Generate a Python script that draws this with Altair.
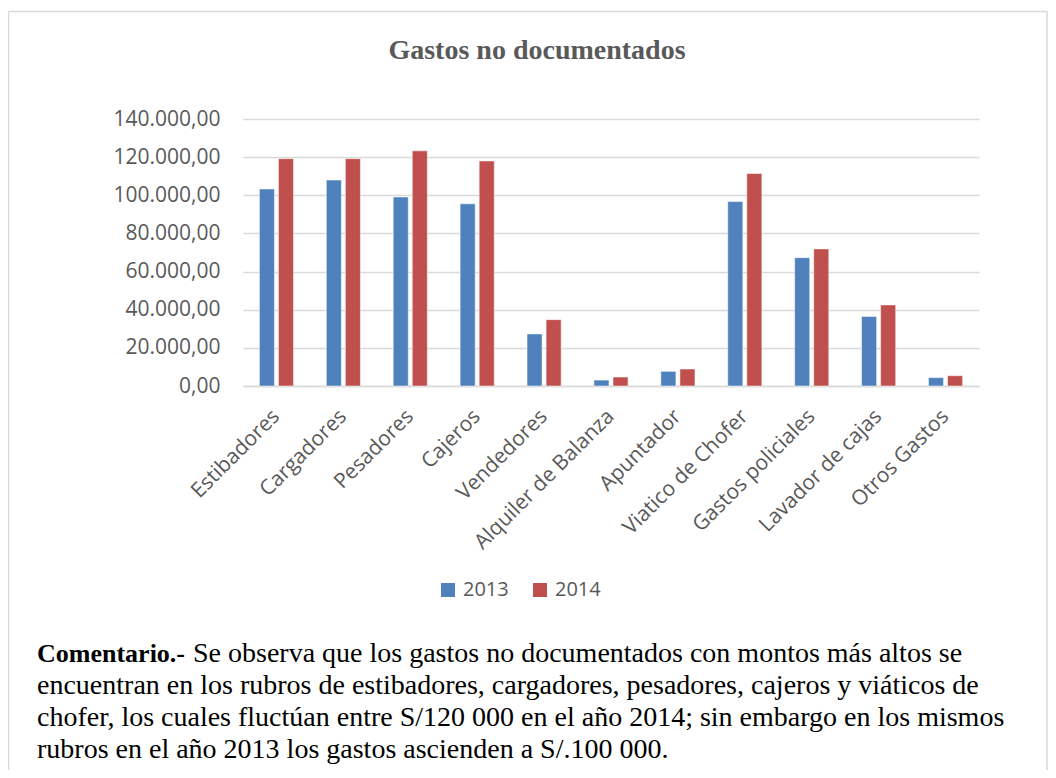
import altair as alt
import pandas as pd

# ---- data ----
categories = ["Estibadores", "Cargadores", "Pesadores", "Cajeros", "Vendedores",
              "Alquiler de Balanza", "Apuntador", "Viatico de Chofer",
              "Gastos policiales", "Lavador de cajas", "Otros Gastos"]
values_2013 = [103300, 108000, 99100, 95500, 27300, 3100, 7700, 96700, 67300, 36500, 4400]
values_2014 = [119200, 119200, 123300, 118000, 34800, 4700, 8900, 111400, 71900, 42500, 5400]
years = ["2013", "2014"]
colors = ["#4F81BD", "#C0504D"]
y_ticks = [0, 20000, 40000, 60000, 80000, 100000, 120000, 140000]

title_text = "Gastos no documentados"
comment_bold = "Comentario.-"
comment_lines = [
    "Se observa que los gastos no documentados con montos más altos se",
    "encuentran en los rubros de estibadores, cargadores, pesadores, cajeros y viáticos de",
    "chofer, los cuales fluctúan entre S/120 000 en el año 2014; sin embargo en los mismos",
    "rubros en el año 2013 los gastos ascienden a S/.100 000.",
]

rows = []
for c, a, b in zip(categories, values_2013, values_2014):
    rows.append({"rubro": c, "anio": years[0], "monto": a})
    rows.append({"rubro": c, "anio": years[1], "monto": b})
df = pd.DataFrame(rows)

W, H = 736, 267
GRAY = "#595959"
LINE = "#d9d9d9"
SANS = "Open Sans"
SERIF = "Liberation Serif"

bars = alt.Chart(df).mark_bar(stroke="white", strokeWidth=1, strokeOpacity=0.5).encode(
    x=alt.X("rubro:N", sort=categories,
            scale=alt.Scale(paddingInner=0.49, paddingOuter=0.245),
            axis=alt.Axis(title=None, labelAngle=-45, labelAlign="right", labelBaseline="middle",
                          labelFont=SANS, labelFontSize=21, labelColor=GRAY, ticks=False,
                          domainColor=LINE, domainWidth=1.5, labelPadding=27, grid=False,
                          labelOverlap=False, labelLimit=400)),
    xOffset=alt.XOffset("anio:N", sort=years, scale=alt.Scale(paddingInner=0.21, paddingOuter=0)),
    y=alt.Y("monto:Q", scale=alt.Scale(domain=[0, 140000], nice=False),
            axis=alt.Axis(title=None, values=y_ticks,
                          labelExpr="datum.value == 0 ? '0,00' : format(datum.value / 1000, 'd') + '.000,00'",
                          labelFont=SANS, labelFontSize=21, labelColor=GRAY, domain=False,
                          ticks=False, gridColor=LINE, gridWidth=1.5, labelPadding=23)),
    color=alt.Color("anio:N", scale=alt.Scale(domain=years, range=colors),
                    legend=alt.Legend(title=None, orient="none", legendX=195, legendY=461,
                                      direction="horizontal", symbolType="square", symbolSize=196,
                                      labelFont=SANS, labelFontSize=20, labelColor=GRAY,
                                      columnPadding=21, labelOffset=5, padding=0,
                                      symbolStrokeWidth=0)),
)

one = alt.Data(values=[{}])

def text_layer(txt, x, y, size, bold=False, color="black", align="left"):
    return alt.Chart(one).mark_text(
        text=txt, align=align, baseline="alphabetic", font=SERIF, fontSize=size,
        fontWeight="bold" if bold else "normal", color=color
    ).encode(x=alt.value(x), y=alt.value(y))

title = text_layer(title_text, 294, -60, 28, bold=True, color=GRAY, align="center")

comment = [text_layer(comment_bold, -206, 543, 26, bold=True),
           text_layer(comment_lines[0], -50, 543, 28)]
for i, line in enumerate(comment_lines[1:]):
    comment.append(text_layer(line, -206, 575 + 32 * i, 28))

frame = [
    alt.Chart(one).mark_rule(color=LINE, strokeWidth=1.5).encode(
        x=alt.value(-234.5), y=alt.value(-107.5), y2=alt.value(651)),
    alt.Chart(one).mark_rule(color=LINE, strokeWidth=1.5).encode(
        x=alt.value(-234.5), x2=alt.value(804), y=alt.value(-107.5)),
    alt.Chart(one).mark_rule(color=LINE, strokeWidth=1.5).encode(
        x=alt.value(804), y=alt.value(-107.5), y2=alt.value(651)),
]

chart = alt.layer(bars, title, *comment, *frame).properties(
    width=W, height=H,
    padding={"left": 235, "top": 111, "right": 69, "bottom": 384},
    autosize=alt.AutoSizeParams(type="none"),
).configure_view(stroke=None)

chart.save("out.html", embed_options={"renderer": "svg", "actions": False})
